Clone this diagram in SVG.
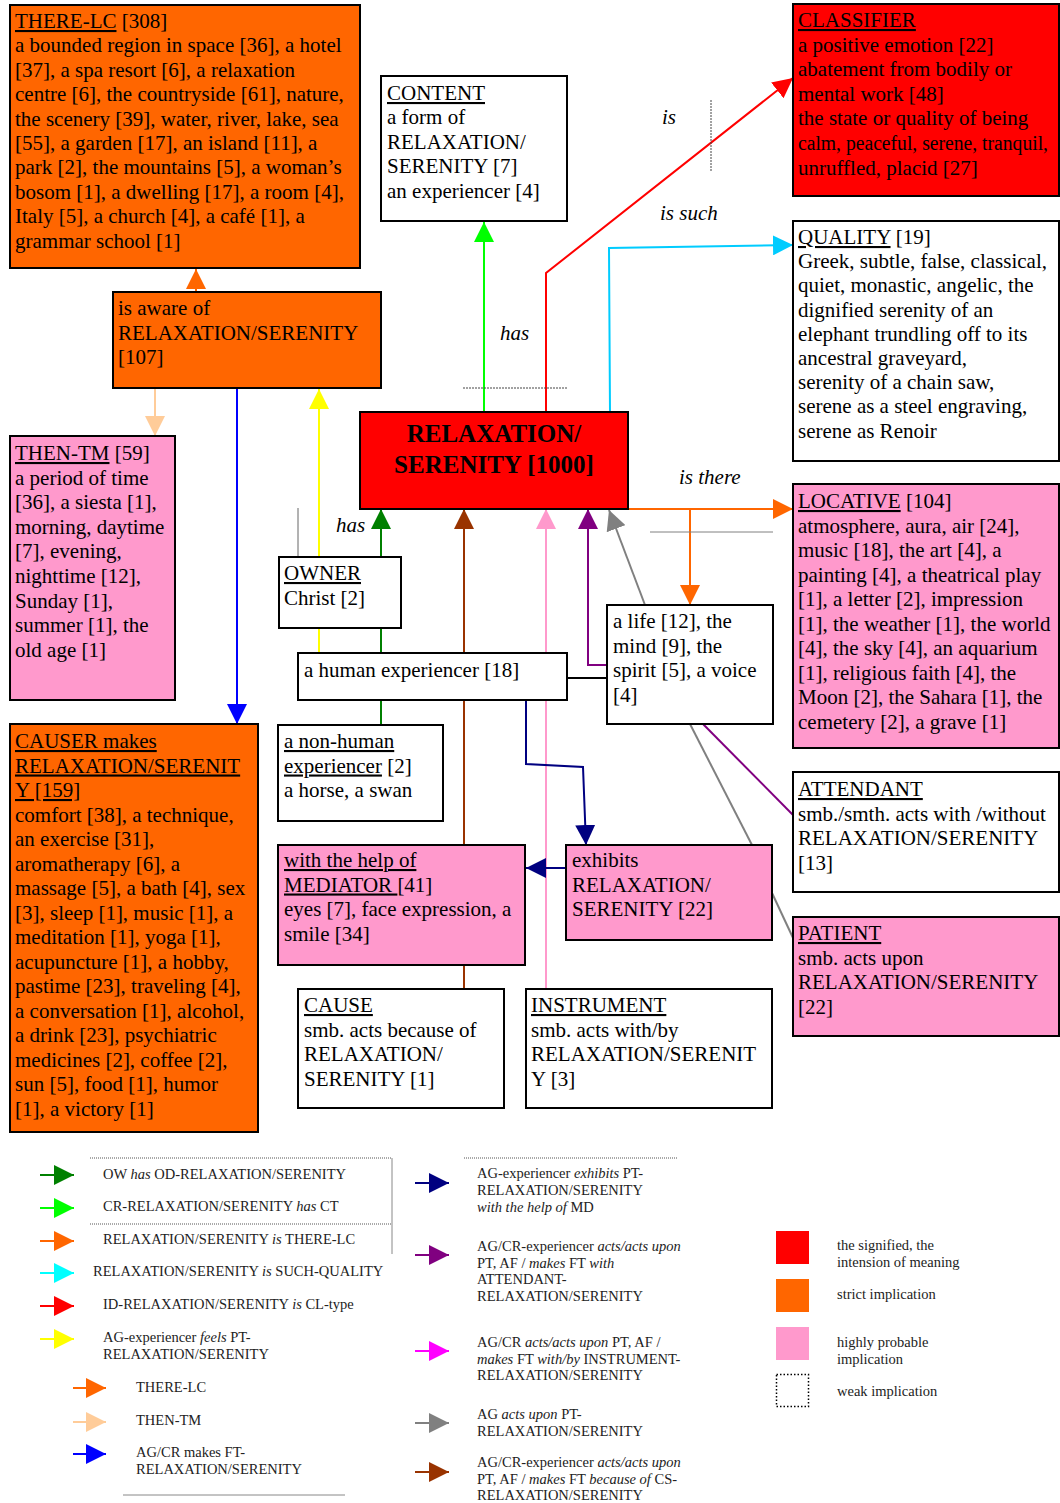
<svg xmlns="http://www.w3.org/2000/svg" width="1060" height="1503" viewBox="0 0 1060 1503">
<style>
text{font-family:"Liberation Serif","Times New Roman",serif;fill:#000}
.t{font-size:21px}
.lb{font-size:21px;font-style:italic}
.lg{font-size:14.5px;fill:#222}
.i{font-style:italic}
.u{text-decoration:underline}
.title{font-size:25px;font-weight:bold}
.box{stroke:#000;stroke-width:2}
.or{fill:#ff6600}.pk{fill:#ff99cc}.rd{fill:#ff0000}.wh{fill:#fff}
.c{fill:none;stroke-width:2}
.thin{fill:none;stroke-width:1}
</style>
<defs>
<marker id="m-or" markerUnits="userSpaceOnUse" markerWidth="20" markerHeight="20" viewBox="0 0 20 20" refX="20" refY="10" orient="auto"><path d="M0,0L20,10L0,20z" fill="#ff6600"/></marker>
<marker id="m-pe" markerUnits="userSpaceOnUse" markerWidth="20" markerHeight="20" viewBox="0 0 20 20" refX="20" refY="10" orient="auto"><path d="M0,0L20,10L0,20z" fill="#ffcc99"/></marker>
<marker id="m-bl" markerUnits="userSpaceOnUse" markerWidth="20" markerHeight="20" viewBox="0 0 20 20" refX="20" refY="10" orient="auto"><path d="M0,0L20,10L0,20z" fill="#0000ff"/></marker>
<marker id="m-ye" markerUnits="userSpaceOnUse" markerWidth="20" markerHeight="20" viewBox="0 0 20 20" refX="20" refY="10" orient="auto"><path d="M0,0L20,10L0,20z" fill="#ffff00"/></marker>
<marker id="m-dg" markerUnits="userSpaceOnUse" markerWidth="20" markerHeight="20" viewBox="0 0 20 20" refX="20" refY="10" orient="auto"><path d="M0,0L20,10L0,20z" fill="#008000"/></marker>
<marker id="m-lg" markerUnits="userSpaceOnUse" markerWidth="20" markerHeight="20" viewBox="0 0 20 20" refX="20" refY="10" orient="auto"><path d="M0,0L20,10L0,20z" fill="#00ff00"/></marker>
<marker id="m-br" markerUnits="userSpaceOnUse" markerWidth="20" markerHeight="20" viewBox="0 0 20 20" refX="20" refY="10" orient="auto"><path d="M0,0L20,10L0,20z" fill="#993300"/></marker>
<marker id="m-pk" markerUnits="userSpaceOnUse" markerWidth="20" markerHeight="20" viewBox="0 0 20 20" refX="20" refY="10" orient="auto"><path d="M0,0L20,10L0,20z" fill="#ff99cc"/></marker>
<marker id="m-pu" markerUnits="userSpaceOnUse" markerWidth="20" markerHeight="20" viewBox="0 0 20 20" refX="20" refY="10" orient="auto"><path d="M0,0L20,10L0,20z" fill="#800080"/></marker>
<marker id="m-gr" markerUnits="userSpaceOnUse" markerWidth="20" markerHeight="20" viewBox="0 0 20 20" refX="20" refY="10" orient="auto"><path d="M0,0L20,10L0,20z" fill="#808080"/></marker>
<marker id="m-rd" markerUnits="userSpaceOnUse" markerWidth="20" markerHeight="20" viewBox="0 0 20 20" refX="20" refY="10" orient="auto"><path d="M0,0L20,10L0,20z" fill="#ff0000"/></marker>
<marker id="m-cy" markerUnits="userSpaceOnUse" markerWidth="20" markerHeight="20" viewBox="0 0 20 20" refX="20" refY="10" orient="auto"><path d="M0,0L20,10L0,20z" fill="#00ccff"/></marker>
<marker id="m-aq" markerUnits="userSpaceOnUse" markerWidth="20" markerHeight="20" viewBox="0 0 20 20" refX="20" refY="10" orient="auto"><path d="M0,0L20,10L0,20z" fill="#00ffff"/></marker>
<marker id="m-nv" markerUnits="userSpaceOnUse" markerWidth="20" markerHeight="20" viewBox="0 0 20 20" refX="20" refY="10" orient="auto"><path d="M0,0L20,10L0,20z" fill="#000080"/></marker>
<marker id="m-mg" markerUnits="userSpaceOnUse" markerWidth="20" markerHeight="20" viewBox="0 0 20 20" refX="20" refY="10" orient="auto"><path d="M0,0L20,10L0,20z" fill="#ff00ff"/></marker>
</defs>
<rect width="1060" height="1503" fill="#fff"/>

<g id="connectors">
<path class="c" stroke="#ff6600" d="M196,292V269" marker-end="url(#m-or)"/>
<path class="c" stroke="#ffcc99" d="M155,388V436" marker-end="url(#m-pe)"/>
<path class="c" stroke="#0000ff" d="M237,388V724" marker-end="url(#m-bl)"/>
<path class="c" stroke="#ffff00" d="M319,653V389" marker-end="url(#m-ye)"/>
<path class="c" stroke="#008000" d="M381,653V509" marker-end="url(#m-dg)"/>
<path class="c" stroke="#008000" d="M381,725V700"/>
<path class="c" stroke="#993300" d="M464,845V509" marker-end="url(#m-br)"/>
<path class="c" stroke="#993300" d="M464,965V989"/>
<path class="c" stroke="#ff99cc" d="M546,989V509" marker-end="url(#m-pk)"/>
<path class="c" stroke="#800080" d="M607,665H588V509" marker-end="url(#m-pu)"/>
<path class="c" stroke="#800080" d="M703,724L794,816"/>
<path class="c" stroke="#808080" d="M645,605L609,510" marker-end="url(#m-gr)"/>
<path class="c" stroke="#808080" d="M690,724L752,845"/>
<path class="c" stroke="#808080" d="M772,893L794,940"/>
<path class="c" stroke="#ff6600" d="M628,509H793" marker-end="url(#m-or)"/>
<path class="c" stroke="#ff6600" d="M690,509V605" marker-end="url(#m-or)"/>
<path class="c" stroke="#000" d="M567,678H607"/>
<path class="c" stroke="#000080" d="M526,700V764L583,767L586,845" marker-end="url(#m-nv)"/>
<path class="c" stroke="#000080" d="M566,868H526" marker-end="url(#m-nv)"/>
<path class="c" stroke="#00ff00" d="M484,412V222" marker-end="url(#m-lg)"/>
<path class="c" stroke="#ff0000" d="M546,412V273L793,78" marker-end="url(#m-rd)"/>
<path class="c" stroke="#00ccff" d="M610,412L609,248L793,245" marker-end="url(#m-cy)"/>
<path class="thin" stroke="#666" d="M298,508V557"/>
<path class="thin" stroke="#444" stroke-dasharray="2,1" d="M463,388H567"/>
<path class="thin" stroke="#444" stroke-dasharray="2,1" d="M711,100V172"/>
<path class="thin" stroke="#808080" d="M650,532H773"/>
<text class="lb" x="662" y="124">is</text>
<text class="lb" x="660" y="220">is such</text>
<text class="lb" x="500" y="340">has</text>
<text class="lb" x="336" y="532">has</text>
<text class="lb" x="679" y="484">is there</text>
</g>

<g id="there-lc">
<rect class="box or" x="10" y="5" width="350" height="263"/>
<text class="t" x="15" y="28"><tspan class="u">THERE-LC</tspan> [308]<tspan x="15" dy="24.4">a bounded region in space [36], a hotel</tspan><tspan x="15" dy="24.4">[37], a spa resort [6], a relaxation</tspan><tspan x="15" dy="24.4">centre [6], the countryside [61], nature,</tspan><tspan x="15" dy="24.4">the scenery [39], water, river, lake, sea</tspan><tspan x="15" dy="24.4">[55], a garden [17], an island [11], a</tspan><tspan x="15" dy="24.4">park [2], the mountains [5], a woman’s</tspan><tspan x="15" dy="24.4">bosom [1], a dwelling [17], a room [4],</tspan><tspan x="15" dy="24.4">Italy [5], a church [4], a café [1], a</tspan><tspan x="15" dy="24.4">grammar school [1]</tspan></text>
</g>

<g id="content">
<rect class="box wh" x="381" y="76" width="186" height="145"/>
<text class="t" x="387" y="100"><tspan class="u">CONTENT</tspan><tspan x="387" dy="24.4">a form of</tspan><tspan x="387" dy="24.4">RELAXATION/</tspan><tspan x="387" dy="24.4">SERENITY [7]</tspan><tspan x="387" dy="24.4">an experiencer [4]</tspan></text>
</g>

<g id="classifier">
<rect class="box rd" x="793" y="4" width="266" height="192"/>
<text class="t" x="798" y="27"><tspan class="u">CLASSIFIER</tspan><tspan x="798" dy="24.6">a positive emotion [22]</tspan><tspan x="798" dy="24.6">abatement from bodily or</tspan><tspan x="798" dy="24.6">mental work [48]</tspan><tspan x="798" dy="24.6">the state or quality of being</tspan><tspan x="798" dy="24.6" font-size="20" textLength="250" lengthAdjust="spacingAndGlyphs">calm, peaceful, serene, tranquil,</tspan><tspan x="798" dy="24.6">unruffled, placid [27]</tspan></text>
</g>

<g id="quality">
<rect class="box wh" x="793" y="221" width="266" height="240"/>
<text class="t" x="798" y="244"><tspan class="u">QUALITY</tspan> [19]<tspan x="798" dy="24.2">Greek, subtle, false, classical,</tspan><tspan x="798" dy="24.2">quiet, monastic, angelic, the</tspan><tspan x="798" dy="24.2">dignified serenity of an</tspan><tspan x="798" dy="24.2">elephant trundling off to its</tspan><tspan x="798" dy="24.2">ancestral graveyard,</tspan><tspan x="798" dy="24.2">serenity of a chain saw,</tspan><tspan x="798" dy="24.2">serene as a steel engraving,</tspan><tspan x="798" dy="24.2">serene as Renoir</tspan></text>
</g>

<g id="aware">
<rect class="box or" x="113" y="292" width="268" height="96"/>
<text class="t" x="118" y="315">is aware of<tspan x="118" dy="24.5">RELAXATION/SERENITY</tspan><tspan x="118" dy="24.5">[107]</tspan></text>
</g>

<g id="main">
<rect class="box rd" x="360" y="412" width="268" height="97"/>
<text class="title" x="494" y="442" text-anchor="middle">RELAXATION/<tspan x="494" dy="31">SERENITY [1000]</tspan></text>
</g>

<g id="then-tm">
<rect class="box pk" x="10" y="436" width="165" height="264"/>
<text class="t" x="15" y="460"><tspan class="u">THEN-TM</tspan> [59]<tspan x="15" dy="24.6">a period of time</tspan><tspan x="15" dy="24.6">[36], a siesta [1],</tspan><tspan x="15" dy="24.6">morning, daytime</tspan><tspan x="15" dy="24.6">[7], evening,</tspan><tspan x="15" dy="24.6">nighttime [12],</tspan><tspan x="15" dy="24.6">Sunday [1],</tspan><tspan x="15" dy="24.6">summer [1], the</tspan><tspan x="15" dy="24.6">old age [1]</tspan></text>
</g>

<g id="owner">
<rect class="box wh" x="279" y="557" width="122" height="71"/>
<text class="t" x="284" y="580"><tspan class="u">OWNER</tspan><tspan x="284" dy="24.5">Christ [2]</tspan></text>
</g>

<g id="human">
<rect class="box wh" x="298" y="653" width="269" height="47"/>
<text class="t" x="304" y="677">a human experiencer [18]</text>
</g>

<g id="life">
<rect class="box wh" x="607" y="605" width="166" height="119"/>
<text class="t" x="613" y="628">a life [12], the<tspan x="613" dy="24.5">mind [9], the</tspan><tspan x="613" dy="24.5">spirit [5], a voice</tspan><tspan x="613" dy="24.5">[4]</tspan></text>
</g>

<g id="locative">
<rect class="box pk" x="793" y="484" width="266" height="264"/>
<text class="t" x="798" y="508"><tspan class="u">LOCATIVE</tspan> [104]<tspan x="798" dy="24.5">atmosphere, aura, air [24],</tspan><tspan x="798" dy="24.5">music [18], the art [4], a</tspan><tspan x="798" dy="24.5">painting [4], a theatrical play</tspan><tspan x="798" dy="24.5">[1], a letter [2], impression</tspan><tspan x="798" dy="24.5">[1], the weather [1], the world</tspan><tspan x="798" dy="24.5">[4], the sky [4], an aquarium</tspan><tspan x="798" dy="24.5">[1], religious faith [4], the</tspan><tspan x="798" dy="24.5">Moon [2], the Sahara [1], the</tspan><tspan x="798" dy="24.5">cemetery [2], a grave [1]</tspan></text>
</g>

<g id="attendant">
<rect class="box wh" x="793" y="772" width="266" height="120"/>
<text class="t" x="798" y="796"><tspan class="u">ATTENDANT</tspan><tspan x="798" dy="24.5">smb./smth. acts with /without</tspan><tspan x="798" dy="24.5">RELAXATION/SERENITY</tspan><tspan x="798" dy="24.5">[13]</tspan></text>
</g>

<g id="patient">
<rect class="box pk" x="793" y="917" width="266" height="119"/>
<text class="t" x="798" y="940"><tspan class="u">PATIENT</tspan><tspan x="798" dy="24.5">smb. acts upon</tspan><tspan x="798" dy="24.5">RELAXATION/SERENITY</tspan><tspan x="798" dy="24.5">[22]</tspan></text>
</g>

<g id="causer">
<rect class="box or" x="10" y="724" width="248" height="408"/>
<text class="t" x="15" y="748"><tspan class="u">CAUSER makes</tspan><tspan x="15" dy="24.5" class="u">RELAXATION/SERENIT</tspan><tspan x="15" dy="24.5" class="u">Y [159]</tspan><tspan x="15" dy="24.5">comfort [38], a technique,</tspan><tspan x="15" dy="24.5">an exercise [31],</tspan><tspan x="15" dy="24.5">aromatherapy [6], a</tspan><tspan x="15" dy="24.5">massage [5], a bath [4], sex</tspan><tspan x="15" dy="24.5">[3], sleep [1], music [1], a</tspan><tspan x="15" dy="24.5">meditation [1], yoga [1],</tspan><tspan x="15" dy="24.5">acupuncture [1], a hobby,</tspan><tspan x="15" dy="24.5">pastime [23], traveling [4],</tspan><tspan x="15" dy="24.5">a conversation [1], alcohol,</tspan><tspan x="15" dy="24.5">a drink [23], psychiatric</tspan><tspan x="15" dy="24.5">medicines [2], coffee [2],</tspan><tspan x="15" dy="24.5">sun [5], food [1], humor</tspan><tspan x="15" dy="24.5">[1], a victory [1]</tspan></text>
</g>

<g id="non-human">
<rect class="box wh" x="278" y="725" width="165" height="96"/>
<text class="t" x="284" y="748"><tspan class="u">a non-human</tspan><tspan x="284" dy="24.5" class="u">experiencer</tspan> [2]<tspan x="284" dy="24.5">a horse, a swan</tspan></text>
</g>

<g id="mediator">
<rect class="box pk" x="278" y="845" width="247" height="120"/>
<text class="t" x="284" y="867"><tspan class="u">with the help of</tspan><tspan x="284" dy="24.5" class="u">MEDIATOR </tspan>[41]<tspan x="284" dy="24.5">eyes [7], face expression, a</tspan><tspan x="284" dy="24.5">smile [34]</tspan></text>
</g>

<g id="exhibits">
<rect class="box pk" x="566" y="845" width="206" height="95"/>
<text class="t" x="572" y="867">exhibits<tspan x="572" dy="24.5">RELAXATION/</tspan><tspan x="572" dy="24.5">SERENITY [22]</tspan></text>
</g>

<g id="cause">
<rect class="box wh" x="298" y="989" width="206" height="119"/>
<text class="t" x="304" y="1012"><tspan class="u">CAUSE</tspan><tspan x="304" dy="24.5">smb. acts because of</tspan><tspan x="304" dy="24.5">RELAXATION/</tspan><tspan x="304" dy="24.5">SERENITY [1]</tspan></text>
</g>

<g id="instrument">
<rect class="box wh" x="526" y="989" width="246" height="119"/>
<text class="t" x="531" y="1012"><tspan class="u">INSTRUMENT</tspan><tspan x="531" dy="24.5">smb. acts with/by</tspan><tspan x="531" dy="24.5">RELAXATION/SERENIT</tspan><tspan x="531" dy="24.5">Y [3]</tspan></text>
</g>

<g id="legend">
<path class="thin" stroke="#555" stroke-dasharray="1,1" d="M90,1158H392M90,1224H392M464,1158H677"/>
<path class="thin" stroke="#888" d="M392,1158V1254M123,1495H345"/>
<path class="c" stroke="#008000" d="M40,1175H74" marker-end="url(#m-dg)"/>
<path class="c" stroke="#00ff00" d="M40,1208H74" marker-end="url(#m-lg)"/>
<path class="c" stroke="#ff6600" d="M40,1241H74" marker-end="url(#m-or)"/>
<path class="c" stroke="#00ffff" d="M40,1273H74" marker-end="url(#m-aq)"/>
<path class="c" stroke="#ff0000" d="M40,1306H74" marker-end="url(#m-rd)"/>
<path class="c" stroke="#ffff00" d="M40,1339H74" marker-end="url(#m-ye)"/>
<path class="c" stroke="#ff6600" d="M73,1388H106" marker-end="url(#m-or)"/>
<path class="c" stroke="#ffcc99" d="M73,1422H106" marker-end="url(#m-pe)"/>
<path class="c" stroke="#0000ff" d="M73,1454H106" marker-end="url(#m-bl)"/>
<path class="c" stroke="#000080" d="M415,1183H449" marker-end="url(#m-nv)"/>
<path class="c" stroke="#800080" d="M415,1255H449" marker-end="url(#m-pu)"/>
<path class="c" stroke="#ff00ff" d="M415,1351H449" marker-end="url(#m-mg)"/>
<path class="c" stroke="#808080" d="M415,1423H449" marker-end="url(#m-gr)"/>
<path class="c" stroke="#993300" d="M415,1472H449" marker-end="url(#m-br)"/>
<text class="lg" x="103" y="1179">OW <tspan class="i">has</tspan> OD-RELAXATION/SERENITY</text>
<text class="lg" x="103" y="1211">CR-RELAXATION/SERENITY <tspan class="i">has</tspan> CT</text>
<text class="lg" x="103" y="1244">RELAXATION/SERENITY <tspan class="i">is</tspan> THERE-LC</text>
<text class="lg" x="93" y="1276">RELAXATION/SERENITY <tspan class="i">is</tspan> SUCH-QUALITY</text>
<text class="lg" x="103" y="1309">ID-RELAXATION/SERENITY <tspan class="i">is</tspan> CL-type</text>
<text class="lg" x="103" y="1342">AG-experiencer <tspan class="i">feels</tspan> PT-<tspan x="103" dy="17">RELAXATION/SERENITY</tspan></text>
<text class="lg" x="136" y="1392">THERE-LC</text>
<text class="lg" x="136" y="1425">THEN-TM</text>
<text class="lg" x="136" y="1457">AG/CR makes FT-<tspan x="136" dy="17">RELAXATION/SERENITY</tspan></text>
<text class="lg" x="477" y="1178">AG-experiencer <tspan class="i">exhibits</tspan> PT-<tspan x="477" dy="17">RELAXATION/SERENITY</tspan><tspan x="477" dy="17" class="i">with the help of</tspan> MD</text>
<text class="lg" x="477" y="1251">AG/CR-experiencer <tspan class="i">acts/acts upon</tspan><tspan x="477" dy="16.7">PT, AF / </tspan><tspan class="i">makes</tspan> FT <tspan class="i">with</tspan><tspan x="477" dy="16.7">ATTENDANT-</tspan><tspan x="477" dy="16.7">RELAXATION/SERENITY</tspan></text>
<text class="lg" x="477" y="1347">AG/CR <tspan class="i">acts/acts upon</tspan> PT, AF /<tspan x="477" dy="16.5" class="i">makes</tspan> FT <tspan class="i">with/by</tspan> INSTRUMENT-<tspan x="477" dy="16.5">RELAXATION/SERENITY</tspan></text>
<text class="lg" x="477" y="1419">AG <tspan class="i">acts upon</tspan> PT-<tspan x="477" dy="17">RELAXATION/SERENITY</tspan></text>
<text class="lg" x="477" y="1467">AG/CR-experiencer <tspan class="i">acts/acts upon</tspan><tspan x="477" dy="16.5">PT, AF / </tspan><tspan class="i">makes</tspan> FT <tspan class="i">because of</tspan> CS-<tspan x="477" dy="16.5">RELAXATION/SERENITY</tspan></text>
<rect x="776" y="1231" width="33" height="33" fill="#ff0000"/>
<rect x="776" y="1279" width="33" height="33" fill="#ff6600"/>
<rect x="776" y="1327" width="33" height="33" fill="#ff99cc"/>
<rect x="776.5" y="1374.5" width="32" height="32" fill="none" stroke="#000" stroke-width="1.5" stroke-dasharray="1.5,2"/>
<text class="lg" x="837" y="1250">the signified, the<tspan x="837" dy="17">intension of meaning</tspan></text>
<text class="lg" x="837" y="1299">strict implication</text>
<text class="lg" x="837" y="1347">highly probable<tspan x="837" dy="16.5">implication</tspan></text>
<text class="lg" x="837" y="1396">weak implication</text>
</g>
</svg>
